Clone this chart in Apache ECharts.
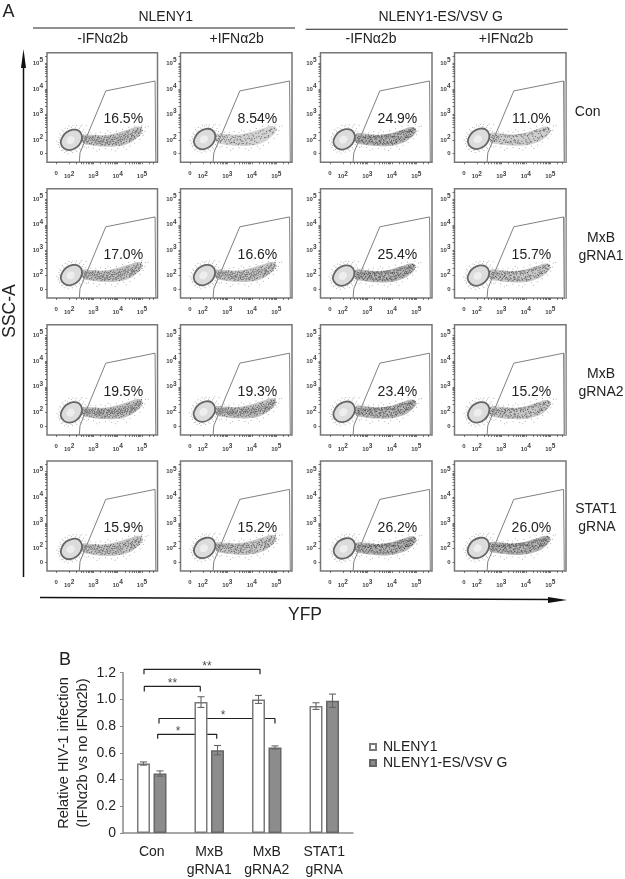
<!DOCTYPE html>
<html>
<head>
<meta charset="utf-8">
<style>html,body{margin:0;padding:0;background:#fff}#c{width:625px;height:879px}#c canvas{filter:blur(0.35px)}</style>
<script src="https://cdn.jsdelivr.net/npm/echarts@6/dist/echarts.min.js"></script>
</head>
<body>
<div id="c"></div>
<script>
// ---------- Panel A data ----------
const rowNames = ["Con", "MxB\ngRNA1", "MxB\ngRNA2", "STAT1\ngRNA"];
const columnNames = ["-IFNα2b", "+IFNα2b", "-IFNα2b", "+IFNα2b"];
const groupNames = ["NLENY1", "NLENY1-ES/VSV G"];
const gatePercents = [
  ["16.5%", "8.54%", "24.9%", "11.0%"],
  ["17.0%", "16.6%", "25.4%", "15.7%"],
  ["19.5%", "19.3%", "23.4%", "15.2%"],
  ["15.9%", "15.2%", "26.2%", "26.0%"]
];
const panelShifts = [
  [[0, 0], [-0.02, 0.03], [-0.04, 0.02], [-0.02, 0.04]],
  [[0, 0.02], [-0.03, 0.02], [-0.06, 0], [-0.03, 0]],
  [[0, 0], [-0.03, 0.03], [-0.04, 0.02], [-0.02, 0]],
  [[0, -0.02], [-0.02, 0.02], [-0.03, 0], [-0.03, 0.02]]
];
const gatePoints = [[2.42, 1.12], [2.45, 1.49], [3.51, 3.92], [5.54, 4.31], [5.57, 1.12]];
const percentAnchor = [4.23, 2.81];
const ringOutline = [[1.66,1.86],[1.72,2.1],[1.88,2.29],[2.15,2.4],[2.4,2.36],[2.53,2.16],[2.48,1.9],[2.3,1.7],[2.03,1.6],[1.8,1.66]];
const ringCore = [[1.9,1.92],[1.95,2.08],[2.1,2.14],[2.22,2.06],[2.18,1.9],[2.02,1.84]];
const tailRising = [[2.55,2.18],[2.95,2.2],[3.4,2.18],[3.9,2.26],[4.4,2.4],[4.9,2.52],[5.02,2.38],[4.8,2.08],[4.4,1.84],[3.9,1.74],[3.4,1.74],[2.95,1.78],[2.55,1.9]];
const tailFlat = [[2.55,2.2],[2.95,2.22],[3.4,2.18],[3.9,2.22],[4.4,2.36],[4.9,2.48],[5.02,2.34],[4.8,2.04],[4.35,1.82],[3.9,1.74],[3.4,1.74],[2.95,1.78],[2.55,1.9]];
const cloudRising = [
[2.55,2.02],[2.62,1.96],[2.7,2.1],[2.78,1.94],[2.86,2.04],[2.94,1.9],[3.02,2.08],[3.1,1.92],[3.18,2.02],[3.26,1.88],[3.34,2.06],[3.42,1.96],[3.5,1.84],[3.58,2.08],[3.66,1.92],[3.74,2.02],[3.82,1.86],[3.9,2.12],[3.98,1.96],[4.06,2.16],[4.14,1.92],[4.22,2.08],[4.3,2.24],[4.38,2.02],[4.46,2.2],[4.54,2.06],[4.62,2.3],[4.7,2.14],[4.78,2.36],[4.86,2.24],[4.94,2.42],[5.02,2.36],
[2.58,2.12],[2.66,2.02],[2.74,1.88],[2.82,2.12],[2.9,1.98],[2.98,2.14],[3.06,1.98],[3.14,1.84],[3.22,2.1],[3.3,1.96],[3.38,1.82],[3.46,2.1],[3.54,2.0],[3.62,1.82],[3.7,2.14],[3.78,1.96],[3.86,2.02],[3.94,1.82],[4.02,2.04],[4.1,2.22],[4.18,2.0],[4.26,1.9],[4.34,2.14],[4.42,2.3],[4.5,1.98],[4.58,2.18],[4.66,2.38],[4.74,2.06],[4.82,2.44],[4.9,2.18],[4.98,2.5],
[2.6,1.9],[2.72,2.0],[2.84,1.86],[2.96,2.02],[3.08,2.12],[3.2,1.94],[3.32,1.8],[3.44,2.04],[3.56,1.9],[3.68,2.08],[3.8,2.1],[3.92,1.9],[4.04,1.88],[4.12,2.08],[4.24,2.16],[4.36,1.94],[4.44,2.12],[4.56,2.26],[4.64,2.02],[4.72,2.26],[4.84,2.14],[4.92,2.32],[5.0,2.26],
[3.12,2.02],[3.24,2.04],[3.36,1.94],[3.48,1.9],[3.6,2.0],[3.72,1.88],[3.84,1.94],[3.96,2.06],[4.08,2.0],[4.16,2.14],[4.28,2.0],[4.4,2.16],[4.48,2.04],[4.6,2.12],[4.68,2.2],[4.76,2.18],[4.88,2.34],
[3.76,2.08],[3.88,1.98],[4.0,1.94],[4.2,1.94],[4.32,2.06],[4.52,2.14],[4.8,2.28],[2.76,2.02],[3.04,1.94],[3.28,2.0]
];
const cloudFlat = [
[2.55,2.06],[2.63,1.94],[2.71,2.12],[2.79,1.96],[2.87,2.08],[2.95,1.9],[3.03,2.1],[3.11,1.94],[3.19,2.08],[3.27,1.86],[3.35,2.08],[3.43,1.88],[3.51,2.08],[3.59,1.86],[3.67,2.1],[3.75,1.84],[3.83,2.12],[3.91,1.82],[3.99,2.14],[4.07,1.86],[4.15,2.18],[4.23,1.9],[4.31,2.22],[4.39,1.94],[4.47,2.28],[4.55,2.0],[4.63,2.32],[4.71,2.08],[4.79,2.36],[4.87,2.16],[4.95,2.4],[5.03,2.32],
[2.58,2.16],[2.66,2.04],[2.74,1.9],[2.82,2.14],[2.9,2.0],[2.98,2.16],[3.06,1.84],[3.14,2.12],[3.22,1.92],[3.3,2.12],[3.38,1.84],[3.46,2.12],[3.54,1.92],[3.62,2.14],[3.7,1.88],[3.78,2.16],[3.86,1.9],[3.94,2.18],[4.02,1.92],[4.1,2.12],[4.18,1.96],[4.26,2.24],[4.34,2.0],[4.42,2.3],[4.5,2.04],[4.58,2.3],[4.66,2.12],[4.74,2.38],[4.82,2.12],[4.9,2.44],[4.98,2.26],
[2.6,1.88],[2.72,2.02],[2.84,1.92],[2.96,2.06],[3.08,2.04],[3.2,2.02],[3.32,1.8],[3.44,2.14],[3.56,2.06],[3.68,1.8],[3.8,2.08],[3.92,2.1],[4.04,1.84],[4.12,2.22],[4.24,2.0],[4.36,2.26],[4.44,1.98],[4.56,2.34],[4.64,2.08],[4.72,2.18],[4.84,2.3],[4.92,2.24],[5.0,2.4],
[3.0,1.94],[3.16,2.0],[3.28,2.18],[3.4,2.02],[3.52,1.82],[3.64,2.18],[3.76,1.94],[3.88,2.2],[4.0,1.88],[4.16,2.12],[4.28,1.94],[4.4,2.2],[4.52,2.18],[4.68,2.3],[4.8,2.2],[4.88,2.34],
[2.68,1.98],[2.88,1.88],[3.12,2.06],[3.36,2.04],[3.6,1.98],[3.84,1.86],[4.08,2.08],[4.32,2.06],[4.6,2.08],[4.76,2.26]
];
const cloudExtra = [
[4.31,2.11],[3.67,1.83],[2.93,2.07],[4.77,2.31],[3.19,1.87],[4.03,1.97],[2.67,2.13],[3.53,2.11],[4.59,2.07],[3.83,2.17],[4.23,1.87],[3.01,1.81],[4.89,2.27],[3.37,2.13],[4.47,2.35],[2.81,1.99],[3.73,2.17],[4.13,2.03],[3.09,2.17],[4.69,2.09],[3.47,1.79],[3.93,2.03],[2.57,1.97],[4.37,2.31],[3.27,2.07],[4.83,2.39],[3.59,1.93],[4.07,1.79],[2.89,2.11],[4.53,2.21],
[3.43,2.01],[4.19,2.23],[3.79,1.81],[2.73,1.93],[4.61,2.23],[3.15,1.97],[3.99,2.21],[4.41,2.09],[3.55,1.97],[2.99,1.97],[4.73,2.33],[3.31,1.87],[4.09,2.12],[3.87,2.09],[2.83,2.06],[4.27,2.18],[3.63,2.11],[4.95,2.36],[3.21,2.15],[4.49,1.93],[3.71,1.95],[2.63,2.07],[4.15,1.84],[3.39,1.91],[4.65,2.16],[3.05,2.03],[3.81,2.03],[4.33,2.21],[2.91,1.85],[4.55,2.01],
[3.49,2.16],[4.01,2.09],[3.17,2.09],[4.79,2.19],[3.65,2.04],[2.77,2.09],[4.21,2.01],[3.89,1.85],[4.43,2.24],[3.35,1.99],[4.71,2.28],[3.07,1.89],[3.97,1.89],[4.57,2.13],[2.69,2.05],[3.57,1.86],[4.11,1.96],[3.25,1.93],[4.85,2.29],[3.77,2.01],[4.29,2.06],[2.97,2.1],[4.63,2.17],[3.45,1.85],[4.05,2.11],[3.13,1.91],[4.39,2.04],[3.69,1.99],[4.91,2.44],[3.33,2.11],
[2.85,1.95],[4.17,2.09],[3.61,2.07],[4.51,2.28],[3.91,2.14],[3.23,1.99],[4.75,2.12],[3.41,2.08],[4.25,2.12],[3.85,1.91],[2.95,2.05],[4.67,2.26],[3.11,2.11],[4.45,2.1],[3.75,2.12],[4.35,2.0],[3.51,1.94],[4.81,2.33],[3.95,1.98],[4.19,1.9]
];
const haloDots = [
[1.55,1.82],[1.5,1.96],[1.58,2.1],[1.62,2.24],[1.72,2.38],[1.84,2.46],[2.0,2.54],[2.16,2.56],[2.3,2.56],[2.46,2.52],[2.6,2.42],[2.66,2.3],[2.7,2.55],[2.52,2.58],[1.6,1.7],[1.68,1.58],[1.8,1.5],[1.96,1.46],[2.14,1.5],[2.32,1.54],[2.46,1.62],[2.62,1.72],[2.72,1.68],
[1.58,1.9],[1.6,2.02],[1.66,2.18],[1.78,2.32],[1.94,2.44],[2.1,2.5],[2.26,2.48],[2.42,2.46],[2.56,2.34],[2.6,2.2],[1.62,1.76],[1.74,1.6],[1.9,1.54],[2.08,1.54],[2.26,1.6],[2.42,1.68],[2.54,1.8],[2.58,1.96],
[2.9,2.28],[3.1,2.26],[3.3,2.3],[3.5,2.26],[3.7,2.3],[3.95,2.34],[4.2,2.42],[4.45,2.5],[4.7,2.54],[5.0,2.58],[5.15,2.5],[5.25,2.52],[5.12,2.34],[5.05,2.18],[4.92,2.02],[4.7,1.88],[4.5,1.76],[4.25,1.72],[4.0,1.66],[3.75,1.62],[3.5,1.66],[3.25,1.62],[3.0,1.68],[2.8,1.72],[3.15,1.56],[3.9,1.56],[4.35,1.62],[3.6,2.36],[2.75,2.22]
];
const cloudByColumn = [cloudRising, cloudRising, cloudFlat, cloudFlat];
const tailByColumn = [tailRising, tailRising, tailFlat, tailFlat];
const xTickLabels = [1.47, 2, 3, 4, 5];
const yTickLabels = [1.47, 2, 3, 4, 5];
const logTicks = [1.47,2,2.3,2.48,2.6,2.7,2.78,2.85,2.9,2.95,3,3.3,3.48,3.6,3.7,3.78,3.85,3.9,3.95,4,4.3,4.48,4.6,4.7,4.78,4.85,4.9,4.95,5,5.3,5.48];

// ---------- Panel B data ----------
const barCategories = ["Con", "MxB\ngRNA1", "MxB\ngRNA2", "STAT1\ngRNA"];
const seriesNames = ["NLENY1", "NLENY1-ES/VSV G"];
const whiteBars = [0.52, 0.98, 1.0, 0.95];
const whiteErrors = [0.012, 0.04, 0.03, 0.025];
const grayBars = [0.445, 0.62, 0.64, 0.99];
const grayErrors = [0.02, 0.035, 0.012, 0.05];
const yTicksB = [0, 0.2, 0.4, 0.6, 0.8, 1.0, 1.2];
const brackets = [
  [[0.365, 1.188], [0.365, 1.225], [2.383, 1.225], [2.383, 1.188]],
  [[0.37, 1.06], [0.37, 1.097], [1.344, 1.097], [1.344, 1.06]],
  [[0.626, 0.82], [0.626, 0.857], [2.643, 0.857], [2.643, 0.82]],
  [[0.603, 0.705], [0.603, 0.739], [1.63, 0.739], [1.63, 0.705]]
];
const stars = [[1.46, 1.245, "**"], [0.86, 1.115, "**"], [1.74, 0.875, "*"], [0.96, 0.76, "*"]];

// ---------- Layout ----------
const colX = [[47, 157.5], [180.5, 292], [320.5, 432], [454.5, 566]];
const rowY = [[52.7, 162.3], [188.7, 298], [324.7, 435], [461, 571]];
const FONT = '"Liberation Sans", Arial, sans-serif';
const TXT = '#222';

const grids = [], xAxes = [], yAxes = [], series = [];
function polygonSeries(idx, pts, shift, style, z) {
  return {
    type: 'custom', xAxisIndex: idx, yAxisIndex: idx, coordinateSystem: 'cartesian2d', silent: true, z,
    data: [[2, 2]],
    renderItem: (p, api) => ({
      type: 'polygon',
      shape: { points: pts.map(q => api.coord([q[0] + shift[0], q[1] + shift[1]])), smooth: 0.5 },
      style
    })
  };
}
rowY.forEach((ry, r) => colX.forEach((cx, c) => {
  const idx = grids.length;
  const shift = panelShifts[r][c];
  const moved = a => a.map(q => [q[0] + shift[0], q[1] + shift[1]]);
  grids.push({ left: cx[0], top: ry[0], width: cx[1] - cx[0], height: ry[1] - ry[0], show: true, borderColor: '#777', borderWidth: 1.5, backgroundColor: '#fff' });
  const tickFmt = v => Math.abs(v - 1.47) < 0.01 ? '0' : '10{s|' + Math.round(v) + '}';
  const rich = { s: { fontSize: 6.5, fontWeight: 'bold', color: '#444', fontFamily: FONT, padding: [0, 0, 6, 0] } };
  xAxes.push({
    gridIndex: idx, type: 'value', min: 1.09, max: 5.64, splitLine: { show: false }, axisLine: { show: false, onZero: false },
    axisTick: { show: true, customValues: logTicks, length: 2, lineStyle: { color: '#444', width: 0.7 } },
    axisLabel: { show: true, customValues: xTickLabels, formatter: tickFmt, margin: 8, fontSize: 6, fontWeight: 'bold', color: '#444', fontFamily: FONT, rich, hideOverlap: false }
  });
  yAxes.push({
    gridIndex: idx, type: 'value', min: 1.12, max: 5.42, splitLine: { show: false }, axisLine: { show: false, onZero: false },
    axisTick: { show: true, customValues: logTicks, length: 2, lineStyle: { color: '#444', width: 0.7 } },
    axisLabel: { show: true, customValues: yTickLabels, formatter: tickFmt, margin: 4, fontSize: 6, fontWeight: 'bold', color: '#444', fontFamily: FONT, rich, hideOverlap: false }
  });
  const pct = parseFloat(gatePercents[r][c]);
  const count = Math.min(cloudByColumn[c].length, Math.round(pct * 6));
  const extraCount = Math.min(cloudExtra.length, Math.round(pct * 5));
  series.push({ type: 'scatter', xAxisIndex: idx, yAxisIndex: idx, silent: true, z: 2, symbolSize: 1, data: moved(haloDots), itemStyle: { color: '#777', opacity: 0.7 } });
  series.push(polygonSeries(idx, tailByColumn[c], shift, { fill: '#777', opacity: 0.22 + pct * 0.012, stroke: null }, 3));
  series.push({ type: 'scatter', xAxisIndex: idx, yAxisIndex: idx, silent: true, z: 4, symbolSize: 1.2, data: moved(cloudByColumn[c].slice(0, count)), itemStyle: { color: '#2a2a2a', opacity: 0.65 } });
  series.push({ type: 'scatter', xAxisIndex: idx, yAxisIndex: idx, silent: true, z: 4, symbolSize: 1.2, data: moved(cloudExtra.slice(0, extraCount)), itemStyle: { color: '#2a2a2a', opacity: 0.65 } });
  series.push(polygonSeries(idx, ringOutline, shift, { fill: '#dcdcdc', stroke: '#666', lineWidth: 1.8 }, 5));
  series.push(polygonSeries(idx, ringCore, shift, { fill: '#eeeeee', stroke: null }, 6));
  const gate = {
    type: 'line', xAxisIndex: idx, yAxisIndex: idx, silent: true, z: 7, symbol: 'none', data: gatePoints,
    lineStyle: { color: '#808080', width: 1 }
  };
  if (c === 3 && r < 3) {
    gate.markArea = { silent: true, itemStyle: { color: '#bcbcbc' }, data: [[{ coord: [5.55, 1.12] }, { coord: [5.64, 4.31] }]] };
  }
  series.push(gate);
  series.push({
    type: 'scatter', xAxisIndex: idx, yAxisIndex: idx, silent: true, z: 8, symbolSize: 1, itemStyle: { color: '#fff' },
    data: [{ value: percentAnchor, txt: gatePercents[r][c] }],
    label: { show: true, position: 'inside', formatter: p => p.data.txt, fontSize: 14, color: TXT, textBorderWidth: 0, opacity: 1, fontFamily: FONT }
  });
}));

// ---------- Panel B ----------
const gB = grids.length;
grids.push({ left: 123, top: 672.7, width: 230, height: 163 });
xAxes.push({
  gridIndex: gB, type: 'category', data: barCategories, axisTick: { show: false },
  axisLine: { lineStyle: { color: '#8a8a8a', width: 1.5 } },
  axisLabel: { interval: 0, color: TXT, fontSize: 14, fontFamily: FONT, margin: 10, lineHeight: 18 }
});
xAxes.push({ gridIndex: gB, type: 'value', min: 0, max: 4, show: false });
yAxes.push({
  gridIndex: gB, type: 'value', min: 0, max: 1.2, interval: 0.2, splitLine: { show: false },
  axisLine: { show: true, lineStyle: { color: '#8a8a8a', width: 1.5 } },
  axisTick: { show: true, length: 3, lineStyle: { color: '#8a8a8a' } },
  axisLabel: { color: TXT, fontSize: 14, fontFamily: FONT, margin: 7, customValues: yTicksB, formatter: v => v === 0 ? '0' : v.toFixed(1) }
});
const xBar = gB, xOver = gB + 1, yB = gB;
brackets.forEach(b => series.push({
  type: 'line', xAxisIndex: xOver, yAxisIndex: yB, data: b, symbol: 'none', silent: true, clip: false, z: 1,
  lineStyle: { color: '#222', width: 1.2 }
}));
series.push({
  type: 'scatter', xAxisIndex: xOver, yAxisIndex: yB, silent: true, clip: false, z: 1, symbolSize: 1, itemStyle: { color: '#fff' },
  data: stars.map(s => ({ value: [s[0], s[1]], txt: s[2] })),
  label: { show: true, position: 'inside', formatter: p => p.data.txt, fontSize: 12, color: TXT, textBorderWidth: 0, fontFamily: FONT }
});
series.push({
  type: 'bar', name: seriesNames[0], xAxisIndex: xBar, yAxisIndex: yB, data: whiteBars, barWidth: 13, barGap: '27%', z: 3, silent: true,
  itemStyle: { color: '#fff', borderColor: '#7a7a7a', borderWidth: 1.5 }
});
series.push({
  type: 'bar', name: seriesNames[1], xAxisIndex: xBar, yAxisIndex: yB, data: grayBars, barWidth: 13, z: 3, silent: true,
  itemStyle: { color: '#8c8c8c', borderColor: '#666', borderWidth: 1.5 }
});
function errorSeries(vals, errs, off) {
  return {
    type: 'custom', xAxisIndex: xBar, yAxisIndex: yB, silent: true, z: 4,
    data: vals.map((v, i) => [i, v, errs[i]]), encode: { x: 0, y: 1 },
    renderItem: (p, api) => {
      const i = api.value(0), v = api.value(1), e = api.value(2);
      const hi = api.coord([i, v + e]), lo = api.coord([i, v - e]);
      const x = hi[0] + off;
      const st = { stroke: '#666', lineWidth: 1.1, fill: null };
      return {
        type: 'group', children: [
          { type: 'line', shape: { x1: x, y1: hi[1], x2: x, y2: lo[1] }, style: st },
          { type: 'line', shape: { x1: x - 3.5, y1: hi[1], x2: x + 3.5, y2: hi[1] }, style: st },
          { type: 'line', shape: { x1: x - 3.5, y1: lo[1], x2: x + 3.5, y2: lo[1] }, style: st }
        ]
      };
    }
  };
}
series.push(errorSeries(whiteBars, whiteErrors, -8.25));
series.push(errorSeries(grayBars, grayErrors, 8.25));

// ---------- Text and rules ----------
const text = (x, y, t, size, extra) => ({
  type: 'text', x, y, silent: true, z: 20,
  style: { text: t, fill: TXT, font: size + 'px ' + FONT, textAlign: 'center', textVerticalAlign: 'middle' },
  ...(extra || {})
});
const rule = (x1, y1, x2, y2, w, c) => ({
  type: 'line', silent: true, z: 20, shape: { x1, y1, x2, y2 }, style: { stroke: c || '#222', lineWidth: w }
});
const graphic = [
  text(8.5, 12, 'A', 18), text(65, 660, 'B', 18),
  text(165.7, 17.3, groupNames[0], 14), text(440.7, 17.3, groupNames[1], 14),
  rule(33, 28, 295, 28, 1.1), rule(305.7, 29.3, 567.7, 29.3, 1.1),
  text(102.7, 39, columnNames[0], 14), text(236.7, 39, columnNames[1], 14),
  text(371, 39, columnNames[2], 14), text(506, 39, columnNames[3], 14),
  text(587.7, 112, rowNames[0], 14),
  text(601, 238, 'MxB', 14), text(601, 256, 'gRNA1', 14),
  text(601, 374, 'MxB', 14), text(601, 392, 'gRNA2', 14),
  text(596, 509, 'STAT1', 14), text(597, 527, 'gRNA', 14),
  text(305, 615, 'YFP', 17.5),
  text(10, 311, 'SSC-A', 17.5, { rotation: Math.PI / 2 }),
  rule(23.5, 577, 23.5, 60, 1.5, '#111'),
  { type: 'polygon', silent: true, z: 20, shape: { points: [[23.5, 49], [21, 68], [26, 68]] }, style: { fill: '#111' } },
  rule(40, 597.4, 552, 599.6, 1.5, '#111'),
  { type: 'polygon', silent: true, z: 20, shape: { points: [[567, 600], [548, 597], [548, 603]] }, style: { fill: '#111' } },
  text(64, 753, 'Relative HIV-1 infection', 14.6, { rotation: Math.PI / 2 }),
  text(83, 753, '(IFNα2b vs no IFNα2b)', 14.6, { rotation: Math.PI / 2 })
];

const chart = echarts.init(document.getElementById('c'), null, { renderer: 'canvas', width: 625, height: 879 });
chart.setOption({
  animation: false, backgroundColor: '#fff', grid: grids, xAxis: xAxes, yAxis: yAxes, series, graphic,
  legend: {
    data: seriesNames, orient: 'vertical', left: 369, top: 740, padding: 0, itemWidth: 6, itemHeight: 6, itemGap: 2, icon: 'rect',
    selectedMode: false, textStyle: { fontSize: 14, color: TXT, fontFamily: FONT, padding: [0, 0, 0, 2] }
  }
});
</script>
</body>
</html>
